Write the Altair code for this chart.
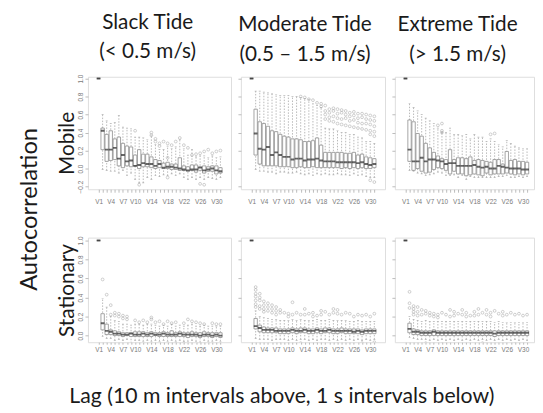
import altair as alt
import pandas as pd

LAGS = list(range(1, 32))
LABELED = [1, 4, 7, 10, 14, 18, 22, 26, 30]

COLUMN_TITLES = [["Slack Tide", "(< 0.5 m/s)"],
                 ["Moderate Tide", "(0.5 \u2013 1.5 m/s)"],
                 ["Extreme Tide", "(> 1.5 m/s)"]]
ROW_TITLES = ["Mobile", "Stationary"]
Y_TITLE = "Autocorrelation"
X_TITLE = "Lag (10 m intervals above, 1 s intervals below)"

# ---------------- Mobile, slack ----------------
sm_lo = [1.0, -0.01, -0.02, -0.03, -0.03, -0.05, -0.02, -0.08, -0.05, -0.12, -0.16, -0.16, -0.10, -0.12, -0.08, -0.09,
         -0.07, -0.08, -0.06, -0.08, -0.06, -0.10, -0.12, -0.10, -0.12, -0.10, -0.12, -0.10, -0.11, -0.12, -0.10]
sm_q1 = [1.0, 0.21, 0.08, 0.09, 0.10, 0.03, 0.01, 0.03, 0.02, 0.03, 0.00, 0.02, 0.02, 0.01, 0.00, 0.01,
         0.00, 0.00, -0.01, -0.01, -0.02, -0.02, -0.03, -0.02, -0.04, -0.02, -0.05, -0.03, -0.03, -0.06, -0.05]
sm_med = [1.0, 0.42, 0.21, 0.21, 0.23, 0.11, 0.15, 0.08, 0.09, 0.03, 0.04, 0.06, 0.05, 0.05, 0.03, 0.05,
          0.01, 0.02, 0.02, 0.01, 0.00, -0.01, -0.02, -0.01, -0.01, 0.01, -0.02, -0.01, 0.00, -0.02, -0.03]
sm_q3 = [1.0, 0.45, 0.38, 0.42, 0.33, 0.35, 0.28, 0.25, 0.24, 0.15, 0.21, 0.16, 0.16, 0.13, 0.10, 0.09,
         0.06, 0.07, 0.05, 0.05, 0.12, 0.03, 0.02, 0.04, 0.04, 0.02, 0.03, 0.02, 0.03, 0.03, 0.01]
sm_hi = [1.0, 0.60, 0.53, 0.50, 0.51, 0.59, 0.46, 0.45, 0.44, 0.35, 0.35, 0.34, 0.32, 0.37, 0.27, 0.21,
         0.21, 0.25, 0.22, 0.24, 0.32, 0.22, 0.15, 0.21, 0.13, 0.14, 0.14, 0.12, 0.14, 0.12, 0.13]
sm_out_lag = [10, 14, 14, 15, 15, 16, 16, 17, 18, 18, 19, 20, 21, 22, 23, 24, 25, 26, 27, 28, 29, 30, 31, 26, 27, 11, 18]
sm_out_val = [0.42, 0.40, 0.37, 0.33, 0.30, 0.25, 0.28, 0.30, 0.28, 0.12, 0.26, 0.30, 0.34, 0.26, 0.23, 0.15, 0.16,
              0.17, 0.19, 0.21, 0.17, 0.19, 0.20, -0.17, -0.18, -0.18, -0.10]

# ---------------- Mobile, moderate ----------------
mm_lo = [1.0, -0.01, -0.03, -0.03, -0.04, -0.04, -0.06, -0.04, -0.04, -0.05, -0.05, -0.04, -0.06, -0.07, -0.06, -0.08,
         -0.06, -0.07, -0.06, -0.07, -0.07, -0.06, -0.07, -0.07, -0.08, -0.06, -0.08, -0.07, -0.09, -0.10, -0.10]
mm_q1 = [1.0, 0.15, 0.05, 0.03, 0.03, 0.03, 0.03, 0.02, 0.02, 0.02, 0.01, 0.01, 0.02, 0.01, 0.01, 0.02,
         0.01, 0.01, 0.01, 0.01, 0.01, 0.01, 0.00, 0.01, 0.00, 0.01, 0.00, 0.01, 0.00, 0.00, 0.01]
mm_med = [1.0, 0.39, 0.22, 0.21, 0.24, 0.15, 0.18, 0.15, 0.13, 0.13, 0.10, 0.11, 0.11, 0.09, 0.10, 0.10,
          0.11, 0.09, 0.08, 0.08, 0.08, 0.07, 0.07, 0.07, 0.07, 0.07, 0.06, 0.07, 0.05, 0.04, 0.05]
mm_q3 = [1.0, 0.66, 0.52, 0.50, 0.47, 0.42, 0.41, 0.38, 0.36, 0.35, 0.33, 0.33, 0.32, 0.30, 0.30, 0.31,
         0.34, 0.26, 0.18, 0.18, 0.18, 0.18, 0.18, 0.17, 0.17, 0.18, 0.15, 0.16, 0.13, 0.12, 0.11]
mm_hi = [1.0, 0.86, 0.86, 0.85, 0.84, 0.83, 0.82, 0.81, 0.81, 0.81, 0.80, 0.80, 0.79, 0.78, 0.77, 0.72,
         0.70, 0.68, 0.45, 0.44, 0.44, 0.42, 0.40, 0.40, 0.38, 0.38, 0.35, 0.34, 0.30, 0.30, 0.28]
mm_out_lag = [13, 14, 15, 16, 17, 18, 18,
              19, 19, 19, 19, 20, 20, 20, 20, 21, 21, 21, 21, 22, 22, 22, 22, 23, 23, 23, 23,
              24, 24, 24, 24, 25, 25, 25, 25, 26, 26, 26, 26, 27, 27, 27, 27, 28, 28, 28, 28,
              29, 29, 29, 29, 30, 30, 30, 30, 30, 31, 31, 31, 31, 31, 31, 30]
mm_out_val = [0.80, 0.79, 0.77, 0.76, 0.73, 0.72, 0.69,
              0.70, 0.64, 0.60, 0.55, 0.66, 0.62, 0.57, 0.53, 0.67, 0.64, 0.58, 0.52, 0.66, 0.61, 0.56, 0.50,
              0.65, 0.62, 0.55, 0.49, 0.64, 0.60, 0.56, 0.48, 0.62, 0.58, 0.53, 0.47, 0.63, 0.59, 0.54, 0.46,
              0.61, 0.56, 0.51, 0.45, 0.61, 0.57, 0.50, 0.44, 0.60, 0.55, 0.50, 0.43, 0.59, 0.54, 0.49, 0.42,
              0.38, 0.58, 0.53, 0.47, 0.41, 0.36, -0.15, -0.13]

# ---------------- Mobile, extreme ----------------
em_lo = [1.0, -0.02, -0.03, -0.05, -0.06, -0.08, -0.07, -0.06, -0.04, -0.05, -0.08, -0.08, -0.07, -0.10, -0.08, -0.12,
         -0.09, -0.10, -0.10, -0.10, -0.10, -0.10, -0.10, -0.09, -0.09, -0.08, -0.10, -0.10, -0.09, -0.10, -0.09]
em_q1 = [1.0, 0.08, -0.02, 0.00, -0.03, -0.05, -0.04, -0.01, 0.01, 0.00, -0.02, -0.06, -0.03, -0.06, -0.06, -0.08,
         -0.07, -0.06, -0.07, -0.08, -0.05, -0.07, -0.06, -0.06, -0.06, -0.05, -0.06, -0.07, -0.06, -0.07, -0.06]
em_med = [1.0, 0.21, 0.08, 0.08, 0.12, 0.08, 0.10, 0.10, 0.09, 0.08, 0.05, 0.06, 0.06, 0.03, 0.03, 0.03,
          0.03, 0.04, 0.02, 0.01, 0.02, 0.00, 0.00, 0.03, 0.02, 0.01, 0.00, 0.00, 0.00, -0.01, -0.01]
em_q3 = [1.0, 0.54, 0.52, 0.39, 0.36, 0.28, 0.23, 0.18, 0.14, 0.11, 0.10, 0.21, 0.10, 0.12, 0.12, 0.11,
         0.13, 0.09, 0.10, 0.09, 0.08, 0.07, 0.10, 0.10, 0.05, 0.19, 0.09, 0.10, 0.08, 0.08, 0.07]
em_hi = [1.0, 0.72, 0.68, 0.64, 0.60, 0.56, 0.53, 0.50, 0.45, 0.40, 0.40, 0.45, 0.38, 0.38, 0.37, 0.38,
         0.33, 0.38, 0.35, 0.35, 0.30, 0.33, 0.30, 0.27, 0.24, 0.31, 0.28, 0.25, 0.23, 0.22, 0.22]
em_out_lag = [9, 10, 10, 10, 22, 23]
em_out_val = [0.48, 0.50, 0.42, 0.40, 0.38, 0.39]

# ---------------- Stationary, slack ----------------
ss_lo = [1.0, -0.01, -0.03, -0.03, -0.05, -0.04, -0.05, -0.04, -0.08, -0.05, -0.05, -0.06, -0.05, -0.06, -0.05, -0.06,
         -0.05, -0.06, -0.05, -0.06, -0.05, -0.06, -0.06, -0.05, -0.06, -0.07, -0.05, -0.06, -0.06, -0.05, -0.06]
ss_q1 = [1.0, 0.06, 0.01, 0.01, 0.00, 0.00, -0.01, 0.00, -0.01, -0.01, -0.01, -0.01, -0.01, -0.01, 0.00, -0.01,
         -0.01, -0.01, -0.01, -0.01, -0.01, -0.01, -0.02, -0.01, -0.01, -0.02, -0.01, -0.01, -0.02, -0.01, -0.02]
ss_med = [1.0, 0.13, 0.05, 0.04, 0.02, 0.02, 0.01, 0.01, 0.02, 0.01, 0.01, 0.02, 0.01, 0.02, 0.01, 0.01,
          0.02, 0.01, 0.01, 0.01, 0.02, 0.01, 0.01, 0.01, 0.01, 0.00, 0.01, 0.01, 0.00, 0.01, 0.00]
ss_q3 = [1.0, 0.23, 0.12, 0.06, 0.05, 0.04, 0.03, 0.03, 0.03, 0.04, 0.04, 0.04, 0.03, 0.04, 0.03, 0.03,
         0.04, 0.03, 0.05, 0.03, 0.04, 0.03, 0.03, 0.04, 0.03, 0.03, 0.04, 0.03, 0.03, 0.03, 0.03]
ss_hi = [1.0, 0.39, 0.30, 0.20, 0.16, 0.15, 0.12, 0.12, 0.11, 0.12, 0.12, 0.11, 0.12, 0.12, 0.11, 0.10,
         0.11, 0.10, 0.12, 0.10, 0.11, 0.10, 0.11, 0.12, 0.10, 0.10, 0.11, 0.10, 0.10, 0.10, 0.10]
ss_out_lag = [2, 3, 4, 4, 5, 5, 6, 6, 7, 7, 8, 8, 9, 10, 10, 11, 12, 13, 14, 14, 15, 16, 17, 18, 19, 20,
              22, 23, 24, 25, 26, 26, 27, 28, 29, 30, 31, 12, 20, 22]
ss_out_val = [0.59, 0.43, 0.32, 0.22, 0.24, 0.21, 0.23, 0.20, 0.21, 0.18, 0.20, 0.17, -0.11, -0.12, 0.16, 0.14,
              0.16, 0.14, 0.17, 0.19, 0.14, 0.15, 0.12, 0.15, 0.13, 0.14, 0.13, 0.17, 0.15, 0.14, -0.12, 0.13,
              0.12, -0.10, 0.13, 0.12, 0.12, -0.10, -0.09, -0.08]

# ---------------- Stationary, moderate ----------------
ms_lo = [1.0, -0.03, -0.04, -0.04, -0.04, -0.05, -0.04, -0.04, -0.04, -0.05, -0.04, -0.05, -0.04, -0.04, -0.05, -0.04,
         -0.05, -0.04, -0.04, -0.05, -0.04, -0.05, -0.04, -0.05, -0.04, -0.05, -0.04, -0.05, -0.04, -0.05, -0.04]
ms_q1 = [1.0, 0.07, 0.04, 0.03, 0.03, 0.03, 0.03, 0.02, 0.02, 0.02, 0.03, 0.02, 0.03, 0.03, 0.02, 0.02,
         0.03, 0.02, 0.03, 0.03, 0.02, 0.02, 0.03, 0.02, 0.02, 0.02, 0.02, 0.01, 0.02, 0.02, 0.02]
ms_med = [1.0, 0.10, 0.08, 0.06, 0.06, 0.06, 0.05, 0.05, 0.05, 0.05, 0.06, 0.05, 0.05, 0.06, 0.05, 0.05,
          0.06, 0.05, 0.05, 0.06, 0.05, 0.05, 0.05, 0.05, 0.05, 0.04, 0.05, 0.04, 0.05, 0.05, 0.05]
ms_q3 = [1.0, 0.18, 0.11, 0.09, 0.08, 0.08, 0.08, 0.07, 0.07, 0.07, 0.08, 0.07, 0.08, 0.08, 0.07, 0.07,
         0.08, 0.07, 0.08, 0.08, 0.07, 0.07, 0.08, 0.07, 0.07, 0.07, 0.07, 0.06, 0.07, 0.07, 0.07]
ms_hi = [1.0, 0.26, 0.20, 0.19, 0.18, 0.17, 0.17, 0.16, 0.16, 0.16, 0.17, 0.16, 0.17, 0.16, 0.16, 0.16,
         0.17, 0.16, 0.16, 0.17, 0.16, 0.16, 0.16, 0.16, 0.15, 0.15, 0.16, 0.15, 0.15, 0.15, 0.15]
ms_out_lag = [2, 2, 2, 2, 2, 2, 2, 3, 3, 3, 3, 3, 4, 4, 4, 4, 5, 5, 5, 6, 6, 6, 6, 7, 7, 7, 7, 8, 8, 8,
              9, 9, 10, 10, 10, 11, 11, 12, 12, 13, 13, 14, 14, 15, 15, 16, 16, 17, 17, 18, 18, 19, 19, 20,
              21, 21, 22, 22, 22, 23, 24, 24, 25, 26, 26, 27, 28, 28, 29, 30, 30, 31, 31]
ms_out_val = [0.51, 0.48, 0.44, 0.41, 0.37, 0.33, 0.30, 0.44, 0.40, 0.37, 0.31, 0.28, 0.36, 0.32, 0.28, 0.25,
              0.34, 0.30, 0.26, 0.32, 0.28, 0.24, -0.12, 0.30, 0.26, 0.22, -0.11, 0.27, 0.24, -0.09,
              0.24, -0.10, 0.23, 0.20, -0.09, 0.35, 0.22, 0.24, -0.12, 0.22, -0.08, 0.28, 0.22, 0.23, -0.10,
              0.24, 0.20, 0.21, -0.09, 0.26, 0.22, 0.25, -0.11, 0.22,
              0.28, 0.24, 0.27, 0.23, -0.09, 0.22, 0.24, -0.12, 0.23, 0.20, -0.10, 0.22, 0.21, -0.08, 0.22,
              0.20, -0.11, 0.23, -0.07]

# ---------------- Stationary, extreme ----------------
es_lo = [1.0, -0.02, -0.03, -0.04, -0.04, -0.04, -0.05, -0.04, -0.05, -0.04, -0.05, -0.04, -0.05, -0.04, -0.05, -0.04,
         -0.05, -0.04, -0.05, -0.04, -0.05, -0.04, -0.05, -0.04, -0.05, -0.04, -0.05, -0.04, -0.05, -0.04, -0.05]
es_q1 = [1.0, 0.03, 0.01, 0.01, 0.00, 0.00, 0.00, 0.00, 0.00, 0.00, 0.00, 0.00, 0.00, 0.00, 0.00, 0.00,
         0.00, 0.00, 0.00, 0.00, 0.00, 0.00, -0.01, 0.00, 0.00, 0.00, 0.00, 0.00, 0.00, 0.00, 0.00]
es_med = [1.0, 0.07, 0.04, 0.04, 0.03, 0.03, 0.03, 0.04, 0.03, 0.03, 0.03, 0.03, 0.03, 0.03, 0.03, 0.03,
          0.03, 0.03, 0.03, 0.03, 0.03, 0.03, 0.02, 0.03, 0.03, 0.03, 0.03, 0.03, 0.03, 0.03, 0.03]
es_q3 = [1.0, 0.13, 0.07, 0.06, 0.05, 0.05, 0.05, 0.06, 0.05, 0.05, 0.05, 0.05, 0.05, 0.05, 0.05, 0.05,
         0.05, 0.05, 0.05, 0.05, 0.05, 0.05, 0.05, 0.05, 0.05, 0.05, 0.05, 0.05, 0.05, 0.05, 0.05]
es_hi = [1.0, 0.20, 0.17, 0.16, 0.15, 0.16, 0.15, 0.15, 0.15, 0.15, 0.15, 0.15, 0.15, 0.15, 0.15, 0.15,
         0.15, 0.15, 0.15, 0.15, 0.15, 0.15, 0.14, 0.15, 0.14, 0.14, 0.14, 0.14, 0.14, 0.14, 0.14]
es_out_lag = [2, 2, 2, 3, 3, 3, 3, 4, 4, 4, 5, 5, 6, 6, 6, 7, 7, 8, 8, 8, 9, 9, 10, 10, 11, 12, 12, 13, 13,
              14, 14, 15, 15, 16, 16, 17, 17, 18, 18, 19, 19, 20, 20, 21, 21, 22, 22, 23, 24, 24, 25, 25,
              26, 26, 27, 28, 28, 29, 30, 31, 31]
es_out_val = [0.46, 0.34, 0.29, 0.31, 0.28, 0.25, 0.22, 0.30, 0.25, 0.21, 0.27, 0.22, 0.26, 0.23, -0.08,
              0.24, 0.21, 0.23, 0.20, -0.10, 0.22, 0.19, 0.24, -0.09, 0.22, 0.27, 0.20, 0.25, 0.21,
              0.23, -0.10, 0.27, 0.22, 0.24, 0.20, 0.21, -0.11, 0.25, 0.21, 0.28, 0.22, 0.24, -0.08,
              0.27, 0.22, 0.24, 0.20, 0.26, 0.23, -0.10, 0.25, 0.21, 0.22, -0.12, 0.24, 0.22, -0.09,
              0.23, 0.21, 0.22, -0.10]

GREY = "#8e8e8e"
FRAME = "#a0a0a0"
TXT = "#1a1a1a"
LABEL_FONT = "Liberation Sans"
TITLE_FONT = "Lato"
TITLE_DX = [-12, -8, -7]

label_expr = "indexof([" + ",".join(str(v) for v in LABELED) + "], datum.value) >= 0 ? 'V' + datum.value : ''"


def panel(lo, q1, med, q3, hi, out_lag, out_val, row, col, width, height, xdom):
    df = pd.DataFrame({"lag": LAGS, "lo": lo, "q1": q1, "med": med, "q3": q3, "hi": hi})
    od = pd.DataFrame({"lag": out_lag, "val": out_val})
    if row == 0:
        ydom = [-0.23, 1.02]
        yvals = [-0.2, 0.0, 0.2, 0.4, 0.6, 0.8, 1.0]
        lab_pad = 6
        tick_size = 3
    else:
        ydom = [-0.07, 1.03]
        yvals = [0.0, 0.2, 0.4, 0.6, 0.8, 1.0]
        lab_pad = 2
        tick_size = 2

    xaxis_kw = dict(values=LAGS, labelExpr=label_expr, labelFontSize=6.5, labelFont=LABEL_FONT,
                    labelColor="#7a7a7a", tickColor=GREY, tickSize=tick_size, tickWidth=0.6,
                    labelPadding=lab_pad, domain=False, grid=False, labelOverlap=False,
                    labelFlush=False, title=None)
    if row == 1 and col == 1:
        xaxis_kw.update(title=X_TITLE, titleFont=TITLE_FONT, titleFontSize=21.5, titleFontWeight="normal",
                        titleColor=TXT, titleX=41, titleY=55, titleAlign="center", titleBaseline="middle",
                        titleAnchor="middle")
    xaxis = alt.Axis(**xaxis_kw)

    yaxis_kw = dict(values=yvals, format=".1f", labelAngle=270, labelFontSize=6.5, labelFont=LABEL_FONT,
                    labelColor="#7a7a7a", tickColor=GREY, tickSize=3, tickWidth=0.6, labelPadding=2,
                    domain=False, grid=False, labelFlush=False, labelOverlap=False, title=None)
    if col == 0:
        yaxis_kw.update(title=ROW_TITLES[row], titleFont=TITLE_FONT, titleFontSize=21,
                        titleFontWeight="normal", titleColor=TXT, titlePadding=0)
        if row == 0:
            yaxis_kw.update(titleY=67)
    else:
        yaxis_kw.update(labels=False)
    yaxis = alt.Axis(**yaxis_kw)

    xs = alt.Scale(domain=xdom, nice=False, zero=False)
    ys = alt.Scale(domain=ydom, nice=False, zero=False)
    X = alt.X("lag:Q", scale=xs, axis=xaxis)

    base = alt.Chart(df)
    whisk = base.mark_rule(color="#9a9a9a", strokeWidth=0.7, strokeDash=[1.5, 1.5], clip=True).encode(
        x=X, y=alt.Y("lo:Q", scale=ys, axis=yaxis), y2="hi:Q")
    cap_lo = base.mark_tick(orient="horizontal", size=2, thickness=0.7, color="#9a9a9a", clip=True).encode(
        x=X, y=alt.Y("lo:Q", scale=ys, axis=yaxis))
    cap_hi = base.mark_tick(orient="horizontal", size=2, thickness=0.7, color="#9a9a9a", clip=True).encode(
        x=X, y=alt.Y("hi:Q", scale=ys, axis=yaxis))
    box = base.mark_bar(size=3.4, fill="white", stroke=GREY, strokeWidth=0.8, clip=True).encode(
        x=X, y=alt.Y("q1:Q", scale=ys, axis=yaxis), y2="q3:Q")
    median = base.mark_tick(orient="horizontal", size=3.8, thickness=1.9, color="#262626", clip=True).encode(
        x=X, y=alt.Y("med:Q", scale=ys, axis=yaxis))
    pts = alt.Chart(od).mark_point(shape="circle", size=8, filled=False, color=GREY, strokeWidth=0.6,
                                   clip=True).encode(
        x=X, y=alt.Y("val:Q", scale=ys, axis=yaxis))

    layer = alt.layer(whisk, cap_lo, cap_hi, box, median, pts)
    props = dict(width=width, height=height)
    if row == 0:
        props["title"] = alt.TitleParams(text=COLUMN_TITLES[col], font=TITLE_FONT, fontSize=21,
                                         fontWeight="normal", color=TXT, lineHeight=30, anchor="middle",
                                         offset=12, dx=TITLE_DX[col])
    return layer.properties(**props)


XD_FULL = [-0.4, 32.4]
XD_CUT = [-0.4, 31.5]
W = [145, 146, 141]
H = [114, 106]

panels = [
    panel(sm_lo, sm_q1, sm_med, sm_q3, sm_hi, sm_out_lag, sm_out_val, 0, 0, W[0], H[0], XD_FULL),
    panel(mm_lo, mm_q1, mm_med, mm_q3, mm_hi, mm_out_lag, mm_out_val, 0, 1, W[1], H[0], XD_FULL),
    panel(em_lo, em_q1, em_med, em_q3, em_hi, em_out_lag, em_out_val, 0, 2, W[2], H[0], XD_CUT),
    panel(ss_lo, ss_q1, ss_med, ss_q3, ss_hi, ss_out_lag, ss_out_val, 1, 0, W[0], H[1], XD_FULL),
    panel(ms_lo, ms_q1, ms_med, ms_q3, ms_hi, ms_out_lag, ms_out_val, 1, 1, W[1], H[1], XD_FULL),
    panel(es_lo, es_q1, es_med, es_q3, es_hi, es_out_lag, es_out_val, 1, 2, W[2], H[1], XD_CUT),
]

chart = alt.concat(*panels, columns=3, spacing={"row": 49, "column": 10}, bounds="flush",
                   align="none").properties(
    title=alt.TitleParams(text=Y_TITLE, orient="left", font=TITLE_FONT, fontSize=24, fontWeight="normal",
                          color=TXT, anchor="middle", offset=14),
    padding={"left": 10, "top": 0, "right": 0, "bottom": 0},
).configure_view(stroke=FRAME, strokeWidth=1).configure(background="white")

chart.save("out.html", embed_options={"renderer": "svg", "actions": False})
